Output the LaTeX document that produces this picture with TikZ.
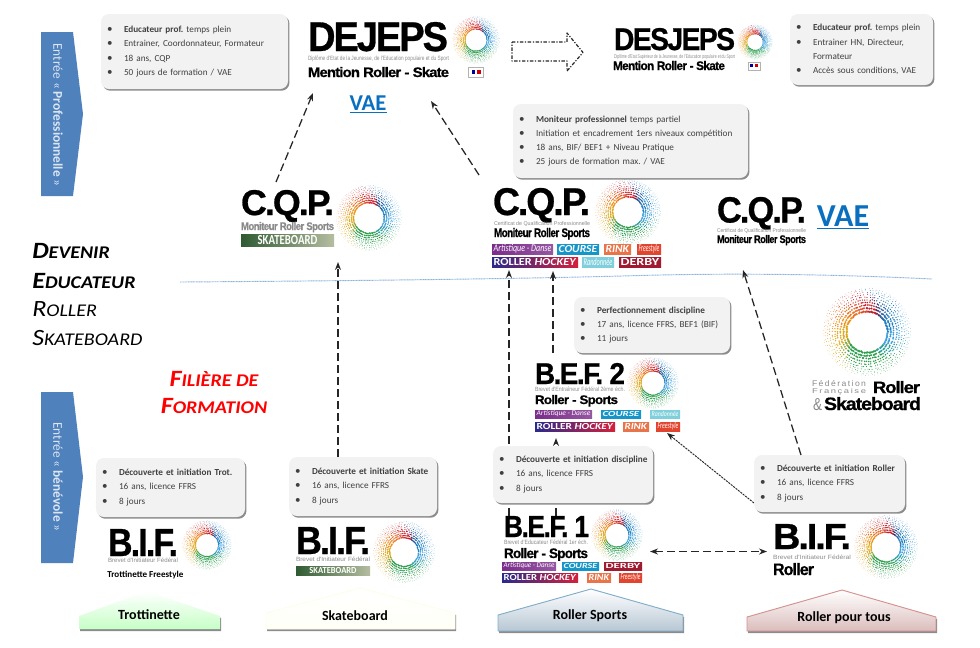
\documentclass[tikz,border=0pt]{standalone}
\usepackage{fontspec}
\usepackage{graphicx}
\setmainfont{Carlito}
\newfontfamily\logofont{Liberation Sans}
\newfontfamily\logoheavy{Liberation Sans}[BoldFeatures={LetterSpace=-5.5,FakeBold=0.7}]
\usetikzlibrary{arrows.meta,shadows}
\definecolor{bodytxt}{HTML}{404040}
\definecolor{boxgray}{HTML}{F2F2F2}
\definecolor{shadowgray}{HTML}{8C8C8C}
\definecolor{entryblue}{HTML}{4F81BD}
\definecolor{entrytxt}{HTML}{DCE6F2}
\definecolor{vaeblue}{HTML}{0B6FC0}
\definecolor{logogray}{HTML}{8A8A8A}
\definecolor{waveblue}{HTML}{8FB4DC}
\definecolor{rBlue}{HTML}{1F7FC0}
\definecolor{rDBlue}{HTML}{2A5FA0}
\definecolor{rPurple}{HTML}{5A2A5A}
\definecolor{rRed}{HTML}{C8202A}
\definecolor{rRedO}{HTML}{DB4A30}
\definecolor{rOrgR}{HTML}{E8742A}
\definecolor{rOrg}{HTML}{EE941E}
\definecolor{rYel}{HTML}{DDA820}
\definecolor{rYG}{HTML}{8FA83A}
\definecolor{rGreen}{HTML}{2E9E4F}
\definecolor{rTeal}{HTML}{2F9E9A}
\definecolor{rLBlue}{HTML}{3FA0DC}
\definecolor{tagArt}{HTML}{7B2D8B}
\definecolor{tagCourse}{HTML}{1696C8}
\definecolor{tagRink}{HTML}{E8744A}
\definecolor{tagFree}{HTML}{E2452F}
\definecolor{tagNavy}{HTML}{2A2A8C}
\definecolor{tagMid}{HTML}{8A3AA0}
\definecolor{tagHock}{HTML}{D4213A}
\definecolor{tagRand}{HTML}{7FD0DC}
\definecolor{tagDerby}{HTML}{9E1B32}
\definecolor{skDark}{HTML}{2F5A32}
\definecolor{skLight}{HTML}{B5BDA0}
\tikzset{
  x=0.75pt,y=-0.75pt,
  infobox/.style={rounded corners=6pt,fill=boxgray,draw=none,inner ysep=0pt,inner xsep=4.5pt,
    align=left,text=bodytxt,font=\fontsize{6.9}{10.7}\selectfont\frenchspacing,
    copy shadow={shadow xshift=1.1pt,shadow yshift=-1.3pt,fill=shadowgray,draw=none,opacity=1}},
  fitlabel/.style={inner sep=0pt,outer sep=0pt},
  taglabel/.style={inner sep=0pt,outer sep=0pt,text=white},
  dasharrow/.style={draw=black!85,line width=0.95pt,dash pattern=on 6pt off 3pt,
    -{Stealth[length=6pt,width=4.5pt]}},
  finearrow/.style={draw=black!85,line width=0.7pt,dash pattern=on 1.6pt off 0.7pt,
    -{Stealth[length=6pt,width=4.5pt]}},
  wave/.style={draw=waveblue,line width=0.7pt,dash pattern=on 0.8pt off 0.4pt},
  entry/.style={fill=entryblue,draw=none},
  entrylabel/.style={rotate=-90,inner sep=0pt,text=entrytxt,font=\fontsize{10}{12}\selectfont},
  homelabel/.style={inner sep=0pt,text=black,font=\fontsize{10.5}{12}\selectfont\bfseries},
  homeshape/.style={line width=0.7pt,
    copy shadow={shadow xshift=0.8pt,shadow yshift=-1.5pt,fill=shadowgray,draw=none,opacity=1}},
  titlelabel/.style={inner sep=0pt,anchor=base west,text=black,font=\bfseries\itshape},
  titlelight/.style={inner sep=0pt,anchor=base west,text=black,font=\itshape},
  redlabel/.style={inner sep=0pt,anchor=base,text=red,font=\bfseries\itshape},
  vaelabel/.style={inner sep=0pt,text=vaeblue,font=\bfseries},
}
\newcommand\blt[1]{\mbox{\makebox[12.75pt][l]{\scalebox{1.2}{\textbullet}}#1}}
\newcommand\cnt[1]{\hspace*{12.75pt}#1}
\newcommand\infonode[6]{%
  \pgfmathsetlengthmacro\tw{(#4-#2)*0.75-9}%
  \pgfmathsetlengthmacro\th{(#5-#3)*0.75}%
  \node[infobox,text width=\tw,minimum height=\th] (#1) at ({(#2+#4)/2},{(#3+#5)/2}) {#6};}
\newcommand\fitnode[7]{%
  \pgfmathsetlengthmacro\fw{(#4-#2)*0.75}%
  \pgfmathsetlengthmacro\fh{(#5-#3)*0.75}%
  \node[fitlabel,text=#6,anchor=base west] (#1) at (#2,#5) {\resizebox{\fw}{\fh}{#7}};}
\newcommand\LB[1]{{\logoheavy\bfseries #1}}
\newcommand\LR[1]{{\logofont #1}}
% name x1 y1 x2 y2 left mid right text
\newcommand\tagbar[9]{%
  \pgfmathsetlengthmacro\bw{(#4-#2)*0.75}%
  \pgfmathsetlengthmacro\bh{(#5-#3)*0.75}%
  \pgfmathsetlengthmacro\ww{(#4-#2)*0.75-2.4}%
  \pgfmathsetlengthmacro\hh{(#5-#3)*0.75-2.2}%
  \node[taglabel,left color=#6,middle color=#7,right color=#8,minimum width=\bw,minimum height=\bh]
    (#1) at ({(#2+#4)/2},{(#3+#5)/2}) {\resizebox{\ww}{\hh}{#9}};}
\newcommand\tART{\textit{Artistique - Danse}}
\newcommand\tCOU{\textbf{\textit{COURSE}}}
\newcommand\tRIN{\textbf{\textit{RINK}}}
\newcommand\tFRE{\textit{Freestyle}}
\newcommand\tHOC{\textbf{ROLLER \textit{HOCKEY}}}
\newcommand\tRAN{\textit{Randonnée}}
\newcommand\tDER{\textbf{DERBY}}
\newcommand\tSKB{\hspace*{1.4em}\textbf{SKATEBOARD}\hspace*{1.4em}}
\newcommand\rosette[3]{%
  \begin{scope}[shift={(#1,#2)},x={#3*0.75pt},y={#3*0.75pt}]
    \foreach \a/\c in {0/rBlue,9/rBlue,18/rBlue,27/rBlue,36/rDBlue,45/rDBlue,54/rPurple,
      63/rRed,72/rRed,81/rRed,90/rRedO,99/rRedO,108/rOrgR,117/rOrgR,126/rOrgR,
      135/rOrg,144/rOrg,153/rOrg,162/rYel,171/rYel,180/rYel,189/rYel,198/rYG,207/rYG,
      216/rGreen,225/rGreen,234/rGreen,243/rGreen,252/rGreen,261/rGreen,270/rGreen,279/rGreen,288/rGreen,
      297/rTeal,306/rTeal,315/rTeal,324/rLBlue,333/rLBlue,342/rLBlue,351/rLBlue}{
      \fill[\c] foreach \o in {0,4.5} { foreach \k/\rr/\dd in {0/.47/.029,1/.54/.026,2/.61/.023,3/.68/.020,4/.74/.017,5/.80/.014,6/.86/.012,7/.91/.010,8/.96/.008,9/1/.006}
        {(\a+\o+\k*5+3*rnd:\rr+.02*rnd) circle[radius=\dd]} };
    }
  \end{scope}}
\newcommand\flagmark[3]{%
  \pgfmathsetmacro\fx{#3/2}%
  \draw[black!30,fill=white,line width=0.4pt] (#1-\fx,#2-\fx*.7) rectangle (#1+\fx,#2+\fx*.7);
  \fill[blue!60!black] (#1-\fx*.6,#2-\fx*.35) rectangle (#1-\fx*.1,#2+\fx*.15);
  \fill[red!80!black] (#1+\fx*.1,#2-\fx*.35) rectangle (#1+\fx*.6,#2+\fx*.15);}
\newcommand\SCa[2]{\scalebox{1.12}[1]{{\fontsize{17.5}{18}\selectfont #1}{\fontsize{13.4}{18}\selectfont #2}}}
\begin{document}
\begin{tikzpicture}
\pgfmathsetseed{42}
\useasboundingbox (0,0) rectangle (980,647);

% entry arrows
\path[entry] (41,32) -- (73,32) -- (83,114) -- (73,196) -- (41,196) -- cycle;
\node[entrylabel] (entrypro) at (58,115) {Entrée « \textbf{Professionnelle} »};
\path[entry] (41,392) -- (73,392) -- (83,477) -- (73,563) -- (41,563) -- cycle;
\node[entrylabel] (entryben) at (58,477) {Entrée « \textbf{bénévole} »};

% info boxes
\infonode{boxdejeps}{101}{14}{288}{89}{\blt{\textbf{Educateur prof.} temps plein}\\\blt{Entrainer, Coordonnateur, Formateur}\\\blt{18 ans, CQP}\\\blt{50 jours de formation / VAE}}
\infonode{boxdesjeps}{790}{14}{933}{85}{\blt{\textbf{Educateur prof.} temps plein}\\\blt{Entrainer HN, Directeur,}\\\cnt{Formateur}\\\blt{Accès sous conditions, VAE}}
\infonode{boxcqp}{513}{104}{748}{178}{\blt{\textbf{Moniteur professionnel} temps partiel}\\\blt{Initiation et encadrement 1ers niveaux compétition}\\\blt{18 ans, BIF/ BEF1 + Niveau Pratique}\\\blt{25 jours de formation max. / VAE}}

% connectors passing behind boxes
\coordinate (vb) at (509,516);
\coordinate (vbt) at (509,270);
\coordinate (vc) at (556,516);
\coordinate (vct) at (556,438);
\draw[dasharrow] (vb) -- (vbt);
\draw[dasharrow] (vc) -- (vct);
\coordinate (rfree) at (667,433);
\coordinate (rbox) at (754,503);
\draw[finearrow] (rbox) -- (rfree);

\infonode{boxperf}{574}{297}{730}{353}{\blt{\textbf{Perfectionnement discipline}}\\\blt{17 ans, licence FFRS, BEF1 (BIF)}\\\blt{11 jours}}
\infonode{boxdisc}{493}{446}{653}{503}{\blt{\textbf{Découverte et initiation discipline}}\\\blt{16 ans, licence FFRS}\\\blt{8 jours}}
\infonode{boxtrot}{96}{458}{245}{517}{\blt{\textbf{Découverte et initiation Trot.}}\\\blt{16 ans, licence FFRS}\\\blt{8 jours}}
\infonode{boxskate}{289}{457}{437}{516}{\blt{\textbf{Découverte et initiation Skate}}\\\blt{16 ans, licence FFRS}\\\blt{8 jours}}
\infonode{boxroller}{754}{455}{905}{512}{\blt{\textbf{Découverte et initiation Roller}}\\\blt{16 ans, licence FFRS}\\\blt{8 jours}}

% DEJEPS
\fitnode{dejeps}{308}{22}{448}{51}{black}{\LB{DEJEPS}}
\fitnode{dejepssub}{308}{56}{449}{60.5}{logogray}{\LR{Diplôme d'Etat de la Jeunesse, de l'Education populaire et du Sport}}
\fitnode{dejepsment}{308}{67}{449}{77}{black}{\LB{Mention Roller - Skate}}
\rosette{476}{40}{23}
\flagmark{476}{72.5}{15}
\node[vaelabel,font=\fontsize{17}{20}\selectfont\bfseries] (vaeone) at (368,104) {\underline{VAE}};

% DESJEPS
\fitnode{desjeps}{614}{28}{735}{50}{black}{\LB{DESJEPS}}
\fitnode{desjepssub}{614}{54}{735}{58}{logogray}{\LR{Diplôme d'Etat Supérieur de la Jeunesse, de l'Education populaire et du Sport}}
\fitnode{desjepsment}{613}{61}{725}{70}{black}{\LB{Mention Roller - Skate}}
\rosette{755}{42}{17}
\flagmark{754}{66}{12}

% big hollow arrow
\draw[black!85,line width=0.9pt,dash pattern=on 2.6pt off 1.2pt on 0.9pt off 1.2pt,line join=round]
  (512,42) -- (567,42) -- (567,33) -- (583,52.5) -- (567,71) -- (567,61) -- (512,61) -- cycle;

% CQP skate
\fitnode{cqpskate}{241}{190}{334}{215}{black}{\LB{C.Q.P.}}
\fitnode{cqpskatesub}{241}{222}{334}{230}{logogray}{\LB{Moniteur Roller Sports}}
\tagbar{cqpskatebar}{241}{234}{334}{246}{skDark}{skDark!60!skLight}{skLight}{\tSKB}
\rosette{369}{218}{32}

% CQP roller
\fitnode{cqproller}{493}{188}{590}{215}{black}{\LB{C.Q.P.}}
\fitnode{cqprollersub}{494}{221}{590}{225}{logogray}{\LR{Certificat de Qualification Professionnelle}}
\fitnode{cqprollermon}{494}{228}{590}{237}{black}{\LB{Moniteur Roller Sports}}
\rosette{628}{212}{32}
\tagbar{tcA}{492}{244}{553}{254}{tagArt}{tagArt}{tagArt!80}{\tART}
\tagbar{tcB}{557}{244}{599}{254}{tagCourse}{tagCourse}{tagCourse}{\tCOU}
\tagbar{tcC}{604}{244}{631}{254}{tagRink}{tagRink}{tagRink}{\tRIN}
\tagbar{tcD}{637}{244}{661}{254}{tagFree}{tagFree}{tagFree}{\tFRE}
\tagbar{tcE}{492}{257}{578}{267}{tagNavy}{tagMid}{tagHock}{\tHOC}
\tagbar{tcF}{582}{257}{614}{267}{tagRand}{tagRand}{tagRand}{\tRAN}
\tagbar{tcG}{619}{257}{661}{267}{tagDerby}{tagDerby}{tagDerby}{\tDER}

% CQP right
\fitnode{cqpvae}{717}{197}{806}{222.5}{black}{\LB{C.Q.P.}}
\fitnode{cqpvaesub}{717}{228}{806}{232}{logogray}{\LR{Certificat de Qualification Professionnelle}}
\fitnode{cqpvaemon}{717}{235}{806}{243}{black}{\LB{Moniteur Roller Sports}}
\node[vaelabel,font=\fontsize{24}{26}\selectfont\bfseries] (vaetwo) at (843,217) {\underline{VAE}};

% wave
\coordinate (wa) at (180,282);
\coordinate (wb) at (932,279);
\draw[wave] (wa) .. controls (330,281) and (520,279) .. (640,275.5) .. controls (730,273) and (830,274) .. (wb);

% titles
\node[titlelabel] (tdevenir) at (32,258) {\SCa{D}{EVENIR}};
\node[titlelabel] (teduc) at (32,288) {\SCa{E}{DUCATEUR}};
\node[titlelight] (troller) at (32,316) {\SCa{R}{OLLER}};
\node[titlelight] (tskate) at (32,345) {\SCa{S}{KATEBOARD}};
\node[redlabel] (tfiliere) at (214,386) {\SCa{F}{ILIÈRE DE}};
\node[redlabel] (tformation) at (214,413) {\SCa{F}{ORMATION}};

% FFRS logo
\rosette{867}{332}{43}
\fitnode{ffrsa}{812}{380}{866}{386}{logogray}{\LR{F\,é\,d\,é\,r\,a\,t\,i\,o\,n}}
\fitnode{ffrsb}{812}{388}{866}{393}{logogray}{\LR{F\,r\,a\,n\,ç\,a\,i\,s\,e}}
\fitnode{ffrsc}{873}{381}{920}{393}{black}{\LB{Roller}}
\fitnode{ffrsd}{813}{398}{822}{410}{logogray}{\LR{\&}}
\fitnode{ffrse}{824}{397}{921}{410}{black}{\LB{Skateboard}}

% BEF 2
\fitnode{befii}{535}{363}{625}{384}{black}{\LB{B.E.F. 2}}
\fitnode{befiisub}{535}{387}{625}{391.5}{logogray}{\LR{Brevet d'Entraîneur Fédéral 2ème éch.}}
\fitnode{befiiroll}{535}{395}{618}{404}{black}{\LB{Roller - Sports}}
\rosette{653}{383}{25}
\tagbar{tbA}{535}{410}{592}{418}{tagArt}{tagArt}{tagArt!80}{\tART}
\tagbar{tbB}{601}{410}{641}{418}{tagCourse}{tagCourse}{tagCourse}{\tCOU}
\tagbar{tbC}{650}{410}{680}{418}{tagRand}{tagRand}{tagRand}{\tRAN}
\tagbar{tbD}{535}{422}{615}{431}{tagNavy}{tagMid}{tagHock}{\tHOC}
\tagbar{tbE}{623}{422}{649}{431}{tagRink}{tagRink}{tagRink}{\tRIN}
\tagbar{tbF}{656}{422}{680}{431}{tagFree}{tagFree}{tagFree}{\tFRE}

% BEF 1
\fitnode{befi}{504}{516}{589}{537}{black}{\LB{B.E.F. 1}}
\fitnode{befisub}{504}{540}{588}{544.5}{logogray}{\LR{Brevet d'Educateur Fédéral 1er éch.}}
\fitnode{befiroll}{504}{548}{588}{558}{black}{\LB{Roller - Sports}}
\rosette{617}{535}{25}
\tagbar{taA}{502}{562}{556}{570}{tagArt}{tagArt}{tagArt!80}{\tART}
\tagbar{taB}{562}{562}{599}{570}{tagCourse}{tagCourse}{tagCourse}{\tCOU}
\tagbar{taC}{604}{562}{642}{570}{tagDerby}{tagDerby}{tagDerby}{\tDER}
\tagbar{taD}{502}{573}{578}{582}{tagNavy}{tagMid}{tagHock}{\tHOC}
\tagbar{taE}{587}{573}{611}{582}{tagRink}{tagRink}{tagRink}{\tRIN}
\tagbar{taF}{619}{573}{642}{582}{tagFree}{tagFree}{tagFree}{\tFRE}

% BIF trot
\fitnode{biftrot}{108}{529}{178}{556}{black}{\LB{B.I.F.}}
\fitnode{biftrotsub}{108}{558}{178}{562.5}{logogray}{\LR{Brevet d'Initiateur Fédéral}}
\node[inner sep=0pt,anchor=base west,text=black,font=\fontsize{6.8}{8}\selectfont\bfseries] (biftrotlbl) at (107,577) {Trottinette Freestyle};
\rosette{207}{545}{24}

% BIF skate
\fitnode{bifskate}{296}{527}{370}{554}{black}{\LB{B.I.F.}}
\fitnode{bifskatesub}{296}{557}{370}{561.5}{logogray}{\LR{Brevet d'Initiateur Fédéral}}
\tagbar{bifskatebar}{296}{566}{370}{575}{skDark}{skDark!60!skLight}{skLight}{\tSKB}
\rosette{404}{552}{30}

% BIF roller
\fitnode{bifroller}{773}{524}{851}{549}{black}{\LB{B.I.F.}}
\fitnode{bifrollersub}{773}{555}{851}{559.5}{logogray}{\LR{Brevet d'Initiateur Fédéral}}
\fitnode{bifrollerlbl}{773}{563}{814}{575}{black}{\LB{Roller}}
\rosette{886}{547}{31}

% house shapes
\path[homeshape,top color=white,bottom color=green!22] (79,629) -- (79,616) -- (147,591) -- (220,616) -- (220,629) -- cycle;
\node[homelabel] (lbltrot) at (149,615) {Trottinette};
\path[homeshape,top color=white,bottom color=black!6!yellow!3!white,draw=black!8!yellow!8!white] (266,629) -- (266,613) -- (360,588) -- (455,613) -- (455,629) -- cycle;
\node[homelabel] (lblskate) at (355,616) {Skateboard};
\path[homeshape,top color=white,bottom color=blue!45!cyan!25!gray!45,draw=blue!40!cyan!40!gray!70] (498,631) -- (498,615) -- (591,589) -- (683,615) -- (683,631) -- cycle;
\node[homelabel] (lblroller) at (590,616) {Roller Sports};
\path[homeshape,top color=white,bottom color=red!30!gray!40,draw=red!45!gray!60] (747,631) -- (747,617) -- (842,590) -- (936,617) -- (936,631) -- cycle;
\node[homelabel] (lbltous) at (844,618) {Roller pour tous};

% connectors
\coordinate (a1s) at (276,182);
\coordinate (a1e) at (313,93);
\draw[dasharrow] (a1s) -- (a1e);
\coordinate (a2s) at (479,175);
\coordinate (a2e) at (431,101);
\draw[dasharrow] (a2s) -- (a2e);
\coordinate (a3s) at (338,457);
\coordinate (a3e) at (338,262);
\draw[dasharrow] (a3s) -- (a3e);
\coordinate (a4s) at (553,353);
\coordinate (a4e) at (553,271);
\draw[dasharrow] (a4s) -- (a4e);
\coordinate (a5s) at (801,455);
\coordinate (a5e) at (743,270);
\draw[dasharrow] (a5s) -- (a5e);
\coordinate (a6s) at (650,551.5);
\coordinate (a6e) at (767,551.5);
\draw[dasharrow,{Stealth[length=6pt,width=4.5pt]}-{Stealth[length=6pt,width=4.5pt]}] (a6s) -- (a6e);
\end{tikzpicture}
\end{document}
